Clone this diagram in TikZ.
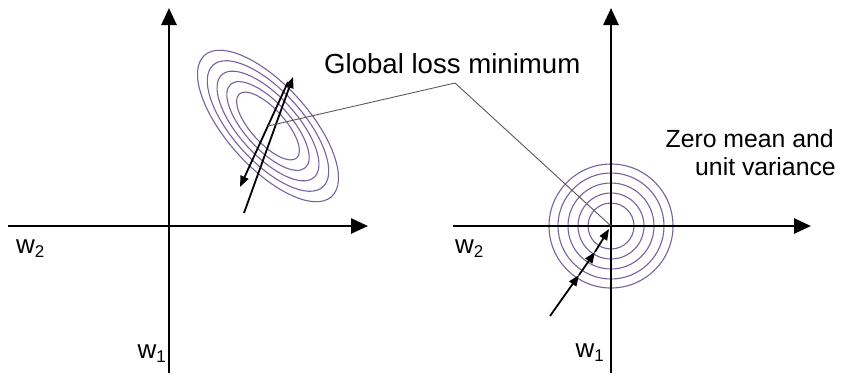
\documentclass[tikz,border=0pt]{standalone}
\usepackage{fontspec}
\setmainfont{Liberation Sans}
\usetikzlibrary{arrows.meta}
\definecolor{ringc}{RGB}{118,98,160}
\definecolor{leadc}{RGB}{90,90,90}
\tikzset{
  axis/.style={line width=2.6pt,-{Triangle[length=17pt,width=15pt]}},
  ring/.style={draw=ringc,line width=1.1pt},
  grad/.style={line width=1.8pt,-{Triangle[length=11pt,width=8.5pt]}},
  leader/.style={draw=leadc,line width=0.9pt},
  bigtxt/.style={inner sep=0pt,font=\fontsize{27.6}{30}\selectfont},
  midtxt/.style={inner sep=0pt,font=\fontsize{24.8}{28}\selectfont},
  axtxt/.style={inner sep=0pt,font=\fontsize{26}{28}\selectfont}
}
\newcommand{\wsub}[1]{w\raisebox{-4pt}{\fontsize{17}{17}\selectfont #1}}
\begin{document}
\begin{tikzpicture}[x=1pt,y=-1pt]
\useasboundingbox (0,0) rectangle (841,373);
% ---- left panel
\coordinate (L0) at (169,226);
\coordinate (LW) at (8,226);
\coordinate (LE) at (368,226);
\coordinate (LS) at (169,373);
\coordinate (LN) at (169,8);
\coordinate (E1) at (268,126);
\foreach \a/\b in {43/17,56/23,69/29,82/35,95/41}
  \draw[ring,rotate around={-48:(E1)}] (E1) ellipse [x radius=\a pt,y radius=\b pt];
\draw[axis] (LW) -- (LE);
\draw[axis] (LS) -- (LN);
\coordinate (A1s) at (244,213);
\coordinate (A1t) at (293,77);
\coordinate (A2s) at (288,82);
\coordinate (A2t) at (240,187);
\draw[grad] (A1s) -- (A1t);
\draw[grad] (A2s) -- (A2t);
\node[axtxt,anchor=base west] (lw2) at (16,253) {\wsub{2}};
\node[axtxt,anchor=base east] (lw1) at (166,358) {\wsub{1}};
% ---- right panel
\coordinate (R0) at (611,226);
\coordinate (RW) at (453,226);
\coordinate (RE) at (811,226);
\coordinate (RS) at (611,373);
\coordinate (RN) at (611,8);
\foreach \r in {23,33,43,53,62}
  \draw[ring] (R0) circle [radius=\r pt];
\draw[axis] (RW) -- (RE);
\draw[axis] (RS) -- (RN);
\coordinate (Gs) at (550,316);
\coordinate (G1) at (579,275);
\coordinate (G2) at (595,252);
\coordinate (G3) at (609,229);
\draw[grad] (Gs) -- (G1);
\draw[grad] (G1) -- (G2);
\draw[grad] (G2) -- (G3);
\node[axtxt,anchor=base west] (rw2) at (455,253) {\wsub{2}};
\node[axtxt,anchor=base east] (rw1) at (604,357) {\wsub{1}};
% ---- labels and leader
\coordinate (B) at (455,83);
\draw[leader] (E1) -- (B) -- (R0);
\node[bigtxt,anchor=base west] (glm) at (324,73) {Global loss minimum};
\node[midtxt,anchor=base east] (zm1) at (834,147) {Zero mean and};
\node[midtxt,anchor=base east] (zm2) at (836,175) {unit variance};
\end{tikzpicture}
\end{document}
